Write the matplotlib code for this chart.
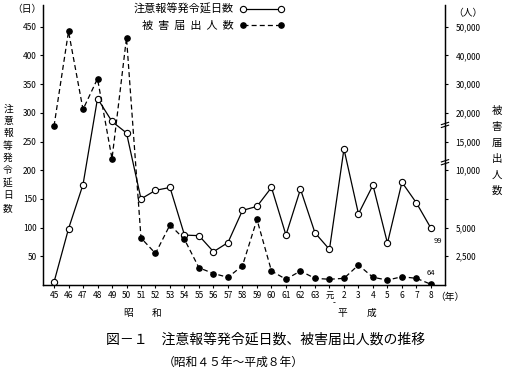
import numpy as np
import matplotlib.pyplot as plt

plt.rcParams['font.family'] = ['Noto Sans CJK JP', 'DejaVu Sans']

# data
years = ['45', '46', '47', '48', '49', '50', '51', '52', '53', '54', '55', '56', '57',
         '58', '59', '60', '61', '62', '63', '元', '2', '3', '4', '5', '6', '7', '8']
days = [5, 98, 175, 325, 285, 265, 150, 165, 170, 87, 86, 58, 74,
        130, 137, 170, 87, 167, 91, 62, 237, 124, 174, 73, 179, 143, 99]
victims = [17700, 48400, 21200, 31900, 12000, 46200, 4100, 2750, 5240, 3970, 1500, 1000, 670,
           1680, 5710, 1220, 500, 1220, 580, 500, 580, 1740, 670, 430, 720, 580, 64]

day_ticks = [50, 100, 150, 200, 250, 300, 350, 400, 450]
victim_ticks = [2500, 5000, 10000, 15000, 20000, 30000, 40000, 50000]
victim_labels = ['2,500', '5,000', '10,000', '15,000', '20,000', '30,000', '40,000', '50,000']

# broken right axis: persons -> height on the days axis
SCALE_P = [0, 10000, 15000, 20000, 30000, 40000, 50000, 60000]
SCALE_D = [0, 200, 250, 300, 350, 400, 450, 500]


def fwd(v):
    return np.interp(v, SCALE_P, SCALE_D)


def inv(d):
    return np.interp(d, SCALE_D, SCALE_P)


W, H = 508, 370
fig = plt.figure(figsize=(W / 100, H / 100), dpi=100)
ax = fig.add_axes([43 / W, 1 - 285 / H, (445 - 43) / W, (285 - 5) / H])
ax2 = ax.twinx()

x = np.arange(len(years))
YTOP = 488

l1, = ax.plot(x, days, '-', color='k', lw=0.9, marker='o', ms=4.5,
              mfc='white', mec='k', mew=0.8, label='注意報等発令延日数')
ax2.set_yscale('function', functions=(fwd, inv))
l2, = ax2.plot(x, victims, '--', color='k', lw=0.9, dashes=(4, 2.5), marker='o', ms=3.8,
               mfc='k', mec='k', label='被  害  届  出  人  数')

ax.set_xlim(-0.76, 26.97)
ax.set_ylim(0, YTOP)
ax2.set_ylim(0, inv(YTOP))

for a in (ax, ax2):
    a.spines['top'].set_visible(False)
    a.spines[:].set_linewidth(0.9)

ax.set_xticks(x)
ax.set_xticklabels(years, fontsize=6)
ax.set_yticks(day_ticks)
ax.set_yticklabels([str(v) for v in day_ticks], fontsize=6)
ax.tick_params(axis='both', length=2.5, width=0.8, pad=2)

ax2.set_yticks(victim_ticks)
ax2.set_yticklabels(victim_labels, fontsize=6)
ax2.set_yticks([7500], minor=True)
ax2.tick_params(axis='y', which='both', length=2.5, width=0.8, pad=5)

# break marks on the right axis
ytr = ax.get_yaxis_transform()
for yb in [279, 214]:
    for dy in (-2.5, 2.5):
        ax.plot([0.991, 1.009], [yb + dy - 2, yb + dy + 2], color='k', lw=0.8,
                transform=ytr, clip_on=False)

# end labels
ax.annotate(str(days[-1]), (x[-1], days[-1]), xytext=(5, -9), textcoords='offset points',
            ha='center', va='center', fontsize=5.5)
ax2.annotate(str(victims[-1]), (x[-1], victims[-1]), xytext=(0, 8), textcoords='offset points',
             ha='center', va='center', fontsize=5.5)

fig.legend([l1, l2], [l1.get_label(), l2.get_label()], loc='upper right',
           bbox_to_anchor=(284 / W, 1 - 4 / H), frameon=False, markerfirst=False,
           numpoints=2, handlelength=4, handletextpad=0.5, fontsize=8,
           labelspacing=0.55, borderpad=0, borderaxespad=0)

# axis titles and captions
fig.text(27 / W, 1 - 9 / H, '（日）', fontsize=7, ha='center', va='center')
fig.text(468 / W, 1 - 13 / H, '（人）', fontsize=7, ha='center', va='center')
fig.text(8 / W, 1 - 158 / H, '\n'.join('注意報等発令延日数'), fontsize=7,
         ha='center', va='center', linespacing=1.3)
fig.text(497 / W, 1 - 151 / H, '\n'.join('被害届出人数'), fontsize=7.5,
         ha='center', va='center', linespacing=1.75)
fig.text(450 / W, 1 - 297 / H, '（年）', fontsize=7, ha='center', va='center')
fig.text(128 / W, 1 - 313 / H, '昭', fontsize=7, ha='center', va='center')
fig.text(157 / W, 1 - 313 / H, '和', fontsize=7, ha='center', va='center')
fig.text(342 / W, 1 - 313 / H, '平', fontsize=7, ha='center', va='center')
fig.text(372 / W, 1 - 313 / H, '成', fontsize=7, ha='center', va='center')
fig.text(334 / W, 1 - 303 / H, '-', fontsize=6, ha='center', va='center')
fig.text(266 / W, 1 - 340 / H, '図－１　注意報等発令延日数、被害届出人数の推移',
         fontsize=10, ha='center', va='center')
fig.text(233 / W, 1 - 362 / H, '（昭和４５年～平成８年）', fontsize=8.5,
         ha='center', va='center')

fig.savefig('out.png', dpi=100)
